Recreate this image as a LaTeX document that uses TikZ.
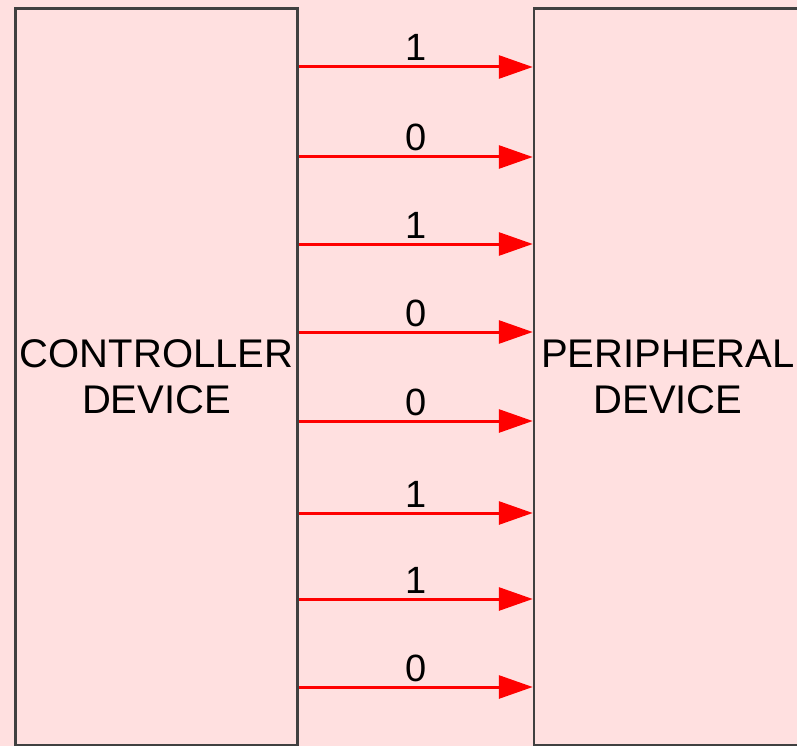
\documentclass[tikz,border=0pt]{standalone}
\usepackage{fontspec}
\setmainfont{Liberation Sans}
\usetikzlibrary{arrows.meta}
\definecolor{bgpink}{HTML}{FFE0E0}
\definecolor{boxline}{HTML}{404040}
\begin{document}
\begin{tikzpicture}[x=1pt,y=-1pt,
  devbox/.style={draw=boxline, line width=2.5pt, rectangle, inner sep=0pt,
    align=center, font=\fontsize{40}{46}\selectfont},
  sig/.style={draw=red, line width=3pt, -{Triangle[length=34pt,width=23pt]}},
  bit/.style={midway, anchor=base, yshift=6pt, inner sep=0pt, font=\fontsize{38}{45}\selectfont}]
\fill[bgpink] (0,0) rectangle (797,746);
\useasboundingbox (0,0) rectangle (797,746);
\node[devbox, minimum width=282pt, minimum height=737pt] (ctrl) at (156.5,377) {CONTROLLER\\DEVICE};
\node[devbox, minimum width=268pt, minimum height=737pt] (peri) at (668,377) {PERIPHERAL\\DEVICE};
\foreach \y/\b [count=\i] in {67/1,157/0,244/1,332/0,421/0,513/1,599/1,687/0}{
  \coordinate (l\i) at (0,\y);
  \draw[sig] (ctrl.east |- l\i) -- (peri.west |- l\i) node[bit] {\b};
}
\end{tikzpicture}
\end{document}
